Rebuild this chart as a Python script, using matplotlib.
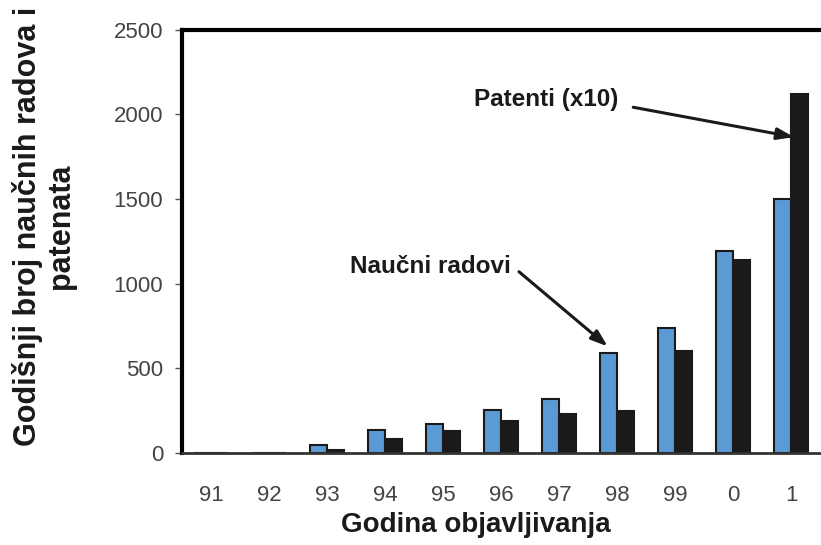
import matplotlib
matplotlib.use("Agg")
import matplotlib.pyplot as plt
import numpy as np

plt.rcParams['font.family'] = ['Liberation Sans', 'DejaVu Sans']

years = ["91", "92", "93", "94", "95", "96", "97", "98", "99", "0", "1"]
radovi = [0, 0, 50, 135, 170, 255, 320, 590, 740, 1190, 1500]
patenti_x10 = [0, 0, 15, 85, 130, 190, 230, 250, 600, 1140, 2120]

blue = "#5b9bd5"
dark = "#1a1a1a"

fig = plt.figure(figsize=(8.21, 5.45), dpi=100)
ax = fig.add_axes([182 / 821, 92 / 545, 638 / 821, 423.5 / 545])

x = np.arange(len(years))
w = 0.29
ax.bar(x - w / 2, radovi, w, color=blue, edgecolor=dark, linewidth=1.5)
ax.bar(x + w / 2, patenti_x10, w, color=dark, edgecolor=dark, linewidth=1.5)

ax.set_xlim(-0.5, 10.5)
ax.set_ylim(0, 2500)
ax.set_yticks([0, 500, 1000, 1500, 2000, 2500])
ax.set_xticks(x)
ax.set_xticklabels(years)

ax.spines['right'].set_visible(False)
for s in ['left', 'top']:
    ax.spines[s].set_linewidth(3)
    ax.spines[s].set_color('black')
ax.spines['bottom'].set_linewidth(2)
ax.spines['bottom'].set_color('#333333')

ax.tick_params(axis='y', direction='out', length=5, width=1, pad=8.5,
               labelsize=16, labelcolor='#444444', color='#555555')
ax.tick_params(axis='x', length=0, pad=23, labelsize=16, labelcolor='#444444')

arrow_style = dict(arrowstyle='-|>,head_length=1.0,head_width=0.35',
                   color=dark, lw=2.2, shrinkA=0, shrinkB=0)
ax.annotate("", xy=(10.05, 1865), xytext=(7.28, 2041), arrowprops=arrow_style)
ax.text(7.02, 2088, "Patenti (x10)", ha='right', va='center',
        fontsize=17.5, fontweight='bold', color=dark)

ax.annotate("", xy=(6.84, 629), xytext=(5.31, 1070), arrowprops=arrow_style)
ax.text(5.17, 1100, "Naučni radovi", ha='right', va='center',
        fontsize=17.5, fontweight='bold', color=dark)

fig.text(476 / 821, 1 - 525 / 545, "Godina objavljivanja", ha='center', va='center',
         fontsize=20, fontweight='bold', color=dark)
fig.text(44 / 821, 1 - 226 / 545, "Godišnji broj naučnih radova i\npatenata",
         rotation=90, ha='center', va='center', multialignment='center',
         fontsize=22, fontweight='bold', color=dark, linespacing=1.15)

fig.savefig("out.png", dpi=100)
